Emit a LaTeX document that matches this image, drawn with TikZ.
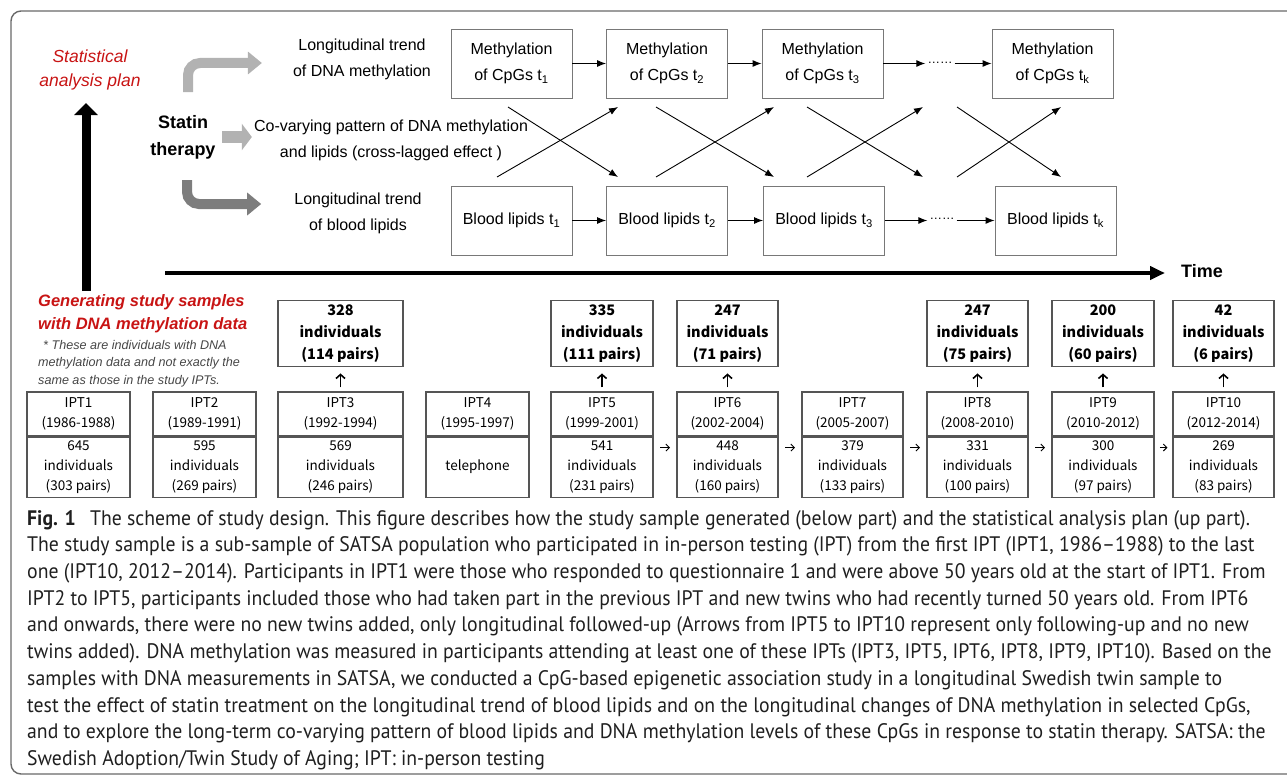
\documentclass[tikz,border=0pt]{standalone}
\usepackage{fontspec}
\setmainfont{Liberation Sans}
\newfontfamily\capfont[FakeStretch=0.94]{PT Sans}
\newfontfamily\lowfont{Noto Sans CJK SC}
\usetikzlibrary{arrows.meta,positioning,calc}
\definecolor{planred}{RGB}{200,20,20}
\definecolor{framegray}{RGB}{105,105,105}
\definecolor{boxgray}{RGB}{120,120,120}
\definecolor{lowgray}{RGB}{85,85,85}
\definecolor{lightarrow}{RGB}{178,178,178}
\definecolor{darkarrow}{RGB}{125,125,125}
\definecolor{notegray}{RGB}{70,70,70}
\begin{document}
\begin{tikzpicture}[x=1pt,y=-1pt,
    stagebox/.style={draw=boxgray,line width=0.9pt,minimum width=121pt,minimum height=69pt,inner sep=0pt,align=center,font=\fontsize{16}{26}\selectfont},
    flow/.style={line width=0.9pt,-{Latex[length=9pt,width=7pt]}},
    bendarrow/.style={line width=10pt,rounded corners=12pt,-{Triangle[length=14pt,width=22pt]}},
    iptbox/.style={draw=lowgray,line width=1.1pt,inner sep=0pt,align=center,font=\lowfont\fontsize{13.5}{20}\selectfont},
    dnabox/.style={draw=lowgray,line width=1.1pt,inner sep=0pt,align=center,minimum height=66pt,font=\lowfont\bfseries\fontsize{14.5}{22}\selectfont},
    upmark/.style={line width=1.6pt,shorten <=4pt,shorten >=6pt,-{Straight Barb[length=4pt,width=9pt]}},
    followmark/.style={line width=0.9pt,-{Straight Barb[length=3.5pt,width=7pt]}}]
    \clip (0,0) rectangle (1287,776);
    \draw[framegray,line width=1.4pt,rounded corners=10pt] (1300,11) -- (11,11) -- (11,774) -- (1300,774);

    % statistical analysis plan
    \node[text=planred,align=center,font=\itshape\fontsize{17.5}{24}\selectfont] (plan) at (90,70) {Statistical\\analysis plan};
    \node[align=center,inner sep=0pt,font=\bfseries\fontsize{18}{27}\selectfont] (statin) at (183,137) {Statin\\therapy};
    \node[align=center,inner sep=0pt,font=\fontsize{16}{26}\selectfont] (trend1) at (362,59) {Longitudinal trend\\of DNA methylation};
    \node[align=center,inner sep=0pt,font=\fontsize{16}{26}\selectfont] (covary) at (391,140) {Co-varying pattern of DNA methylation\\and lipids (cross-lagged effect )};
    \node[align=center,inner sep=0pt,font=\fontsize{16}{26}\selectfont] (trend2) at (358,213) {Longitudinal trend\\of blood lipids};
    \coordinate (stup) at (188,92);
    \coordinate (stmid) at (222,137);
    \coordinate (stdn) at (187,180);
    \draw[bendarrow,lightarrow,shorten >=31pt] (stup) |- ([yshift=-4pt]trend1.west);
    \draw[bendarrow,darkarrow,shorten >=33pt] (stdn) |- ([yshift=9pt]trend2.west);
    \draw[lightarrow,line width=12pt,shorten >=2pt,-{Triangle[length=10pt,width=26pt]}] (stmid) -- (stmid -| covary.west);

    \node[stagebox] (m1) at (511.5,63.5) {Methylation\\of CpGs t\textsubscript{1}};
    \node[stagebox] (m2) at (667,63.5) {Methylation\\of CpGs t\textsubscript{2}};
    \node[stagebox] (m3) at (822.5,63.5) {Methylation\\of CpGs t\textsubscript{3}};
    \node[font=\fontsize{12.5}{14}\selectfont,inner sep=2pt] (dots1) at (940,63) {……};
    \node[stagebox] (mk) at (1052.5,63.5) {Methylation\\of CpGs t\textsubscript{k}};
    \node[stagebox] (b1) at (511.5,220.5) {Blood lipids t\textsubscript{1}};
    \node[stagebox] (b2) at (667,220.5) {Blood lipids t\textsubscript{2}};
    \node[stagebox] (b3) at (824,220.5) {Blood lipids t\textsubscript{3}};
    \node[font=\fontsize{12.5}{14}\selectfont,inner sep=2pt] (dots2) at (942,218.5) {……};
    \node[stagebox] (bk) at (1055.5,220.5) {Blood lipids t\textsubscript{k}};
    \draw[flow] (m1) -- (m2);
    \draw[flow] (m2) -- (m3);
    \draw[flow] (m3.east) -- (dots1.west |- m3.east);
    \draw[flow] (dots1.east |- mk.west) -- (mk.west);
    \draw[flow] (b1) -- (b2);
    \draw[flow] (b2) -- (b3);
    \draw[flow] (b3.east) -- (dots2.west |- b3.east);
    \draw[flow] (dots2.east |- bk.west) -- (bk.west);
    % cross-lagged arrows
    \foreach \k/\xa/\xb/\xc in {1/497/508/618,2/656/656/774,3/807/807/923,4/957/957/1061}
    {
        \coordinate (lo\k) at (\xa,177);
        \coordinate (hi\k) at (\xb,107);
        \coordinate (loend\k) at (\xc,177);
        \coordinate (hiend\k) at (\xc,107);
        \draw[flow] (hi\k) -- (loend\k);
        \draw[flow] (lo\k) -- (hiend\k);
    }
    \node[anchor=west,inner sep=0pt,font=\bfseries\fontsize{18}{20}\selectfont] (time) at (1181,271) {Time};
    \coordinate (tstart) at (165,273);
    \draw[line width=4pt,shorten >=16pt,-{Triangle[length=15pt,width=13pt]}] (tstart) -- (time.west |- tstart);
    \coordinate (vbot) at (86,291);
    \coordinate (vtop) at (86,103);
    \draw[line width=9pt,-{Triangle[length=12pt,width=23pt]}] (vbot) -- (vtop);

    % generating study samples
    \node[anchor=west,align=left,inner sep=0pt,text=planred,font=\bfseries\itshape\fontsize{16.5}{23}\selectfont] (gen) at (38,313.5) {Generating study samples\\with DNA methylation data};
    \node[anchor=west,align=left,inner sep=0pt,text=notegray,font=\itshape\fontsize{12.6}{17.5}\selectfont] (note) at (38,363.5) {\hspace*{5pt}* These are individuals with DNA\\methylation data and not exactly the\\same as those in the study IPTs.};
    \foreach \i/\xc/\w/\yrs/\cnt in {
        1/78.5/103/1986-1988/{645\\individuals\\(303 pairs)},
        2/204.5/103/1989-1991/{595\\individuals\\(269 pairs)},
        3/340.5/125/1992-1994/{569\\individuals\\(246 pairs)},
        4/477.5/103/1995-1997/{telephone},
        5/602/102/1999-2001/{541\\individuals\\(231 pairs)},
        6/727.5/101/2002-2004/{448\\individuals\\(160 pairs)},
        7/852.5/101/2005-2007/{379\\individuals\\(133 pairs)},
        8/977.5/101/2008-2010/{331\\individuals\\(100 pairs)},
        9/1103/102/2010-2012/{300\\individuals\\(97 pairs)},
        10/1223.5/101/2012-2014/{269\\individuals\\(83 pairs)}}
    {
        \node[iptbox,minimum width=\w pt,minimum height=44pt] (ipt\i) at (\xc,414) {IPT\i\\(\yrs)};
        \node[iptbox,minimum width=\w pt,minimum height=60pt,anchor=north] (cnt\i) at (ipt\i.south) {\cnt};
    }
    \foreach \i/\w/\num/\pr in {3/125/328/114,5/102/335/111,6/101/247/71,8/101/247/75,9/102/200/60,10/101/42/6}
    {
        \node[dnabox,minimum width=\w pt,above=24pt of ipt\i] (dna\i) {\num\\individuals\\(\pr{} pairs)};
        \draw[upmark] (ipt\i) -- (dna\i);
    }
    \foreach \a/\b in {5/6,6/7,7/8,8/9,9/10}
        \draw[followmark] ([yshift=-11pt]$(cnt\a.north east)!0.3!(cnt\b.north west)$) -- ([yshift=-11pt]$(cnt\a.north east)!0.72!(cnt\b.north west)$);

    % caption
    \node[anchor=north west,align=left,inner sep=0pt,text=black!88,font=\capfont\fontsize{21}{26.7}\selectfont] (caption) at (27,510) {\textbf{Fig. 1}\hspace{9pt} The scheme of study design. This figure describes how the study sample generated (below part) and the statistical analysis plan (up part).\\
    The study sample is a sub-sample of SATSA population who participated in in-person testing (IPT) from the first IPT (IPT1, 1986–1988) to the last\\
    one (IPT10, 2012–2014). Participants in IPT1 were those who responded to questionnaire 1 and were above 50 years old at the start of IPT1. From\\
    IPT2 to IPT5, participants included those who had taken part in the previous IPT and new twins who had recently turned 50 years old. From IPT6\\
    and onwards, there were no new twins added, only longitudinal followed-up (Arrows from IPT5 to IPT10 represent only following-up and no new\\
    twins added). DNA methylation was measured in participants attending at least one of these IPTs (IPT3, IPT5, IPT6, IPT8, IPT9, IPT10). Based on the\\
    samples with DNA measurements in SATSA, we conducted a CpG-based epigenetic association study in a longitudinal Swedish twin sample to\\
    test the effect of statin treatment on the longitudinal trend of blood lipids and on the longitudinal changes of DNA methylation in selected CpGs,\\
    and to explore the long-term co-varying pattern of blood lipids and DNA methylation levels of these CpGs in response to statin therapy. SATSA: the\\
    Swedish Adoption/Twin Study of Aging; IPT: in-person testing};
\end{tikzpicture}
\end{document}
